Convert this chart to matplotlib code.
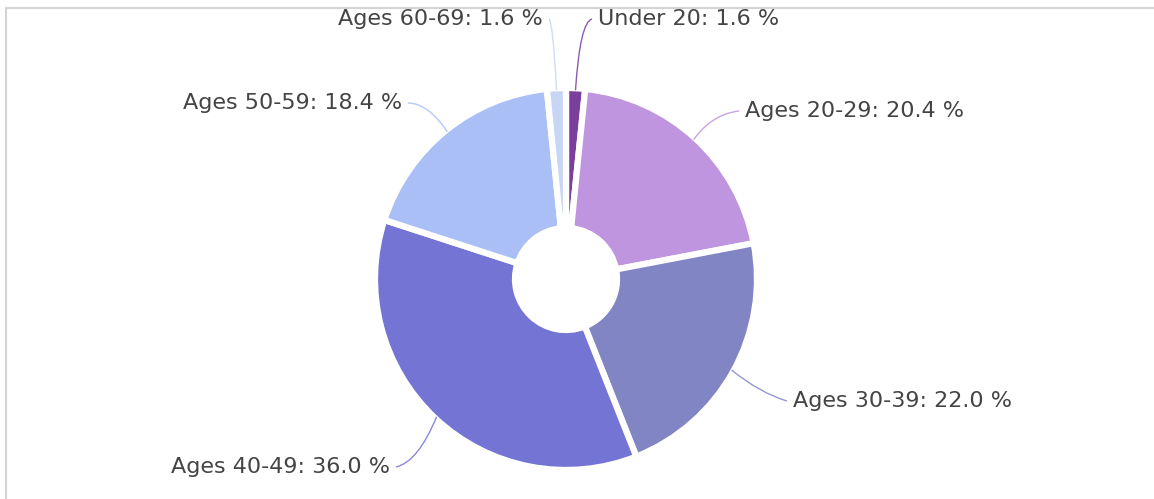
import numpy as np
from matplotlib import pyplot as plt
from matplotlib.path import Path
from matplotlib.patches import PathPatch
from matplotlib.lines import Line2D

# age group shares, clockwise from the top
groups = ['Under 20', 'Ages 20-29', 'Ages 30-39', 'Ages 40-49', 'Ages 50-59', 'Ages 60-69']
shares = [1.6, 20.4, 22.0, 36.0, 18.4, 1.6]
colors = ['#7a3e9d', '#bf95df', '#8285c4', '#7474d4', '#a9bff6', '#c6d6f4']

W, H = 1154, 499
fig = plt.figure(figsize=(W / 100, H / 100), dpi=100)
ax = fig.add_axes([0, 0, 1, 1])
ax.set_aspect('equal')
ax.axis('off')

# thin frame along the top and left edges
fig.add_artist(Line2D([6 / W, 1], [1 - 8 / H, 1 - 8 / H], color='#d4d4d4', lw=1.5))
fig.add_artist(Line2D([6 / W, 6 / W], [0, 1 - 8 / H], color='#d4d4d4', lw=1.5))

cx, cy, r = 566, H - 279, 191
wedges, _ = ax.pie(shares, colors=colors, startangle=90, counterclock=False,
                   center=(cx, cy), radius=r,
                   wedgeprops=dict(width=r - 51, edgecolor='white', linewidth=4.5))
ax.set_xlim(0, W)
ax.set_ylim(0, H)

# label anchor (x, y from top), alignment, elbow point
label_pos = [
    ((598, 19), 'left', (580, 22)),
    ((745, 111), 'left', (712, 114)),
    ((793, 401), 'left', (760, 393)),
    ((390, 467), 'right', (418, 462)),
    ((402, 103), 'right', (428, 103)),
    ((543, 19), 'right', (553, 22)),
]

start = 90.0
for name, val, col, (pos, ha, elbow) in zip(groups, shares, colors, label_pos):
    mid = np.radians(start - val * 3.6 / 2)
    start -= val * 3.6
    p0 = (cx + (r - 2) * np.cos(mid), cy + (r - 2) * np.sin(mid))
    ex, ey = elbow[0], H - elbow[1]
    tx = pos[0] - 6 if ha == 'left' else pos[0] + 6
    ty = H - pos[1]
    path = Path([p0, (ex, ey), (tx, ty)], [Path.MOVETO, Path.CURVE3, Path.CURVE3])
    ax.add_patch(PathPatch(path, fc='none', ec=col, lw=1.0, alpha=0.85))
    ax.text(pos[0], ty, f'{name}: {val:.1f} %', ha=ha, va='center',
            fontsize=16, color='#444444', family='DejaVu Sans')

fig.savefig('out.png', dpi=100)
